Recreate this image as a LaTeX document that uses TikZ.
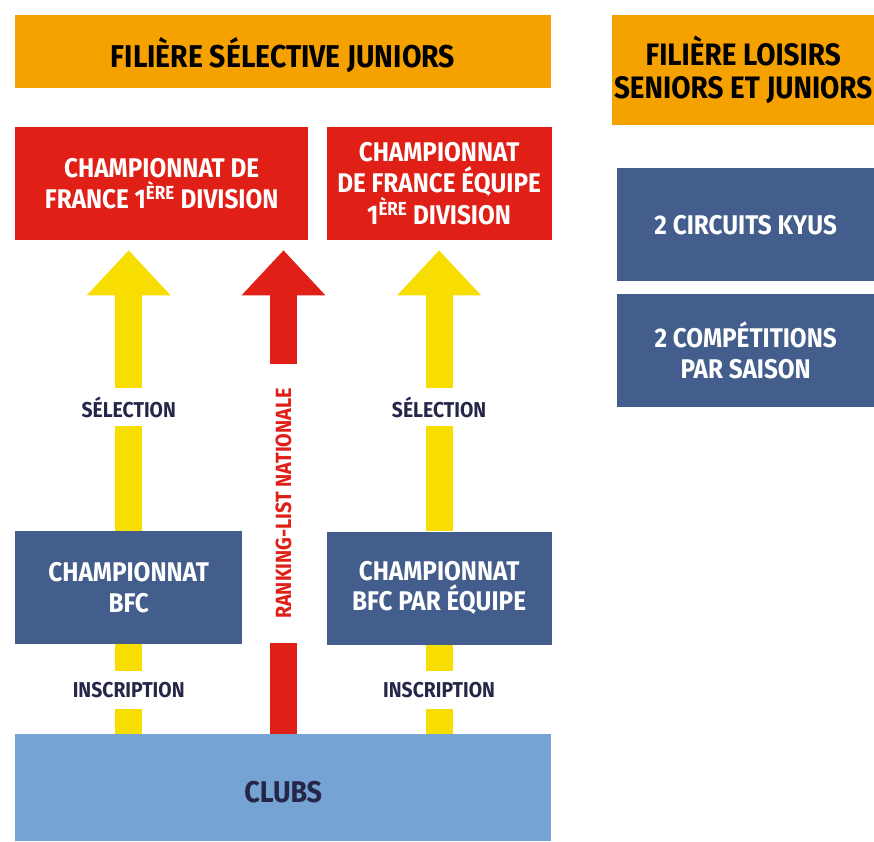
\documentclass[tikz,border=0pt]{standalone}
\usepackage{fontspec}
\setmainfont{Fira Sans}[FakeStretch=0.9]
\usetikzlibrary{positioning,arrows.meta}

\definecolor{filorange}{HTML}{F5A100}
\definecolor{frred}{HTML}{E01F17}
\definecolor{selyellow}{HTML}{F8DD00}
\definecolor{bfcblue}{HTML}{435E8C}
\definecolor{clubblue}{HTML}{75A4D4}
\definecolor{labelnavy}{HTML}{262649}

\begin{document}
\begin{tikzpicture}[
  x=1pt, y=-1pt,
  box/.style={rectangle, inner sep=0pt, align=center, text=white, font=\bfseries\fontsize{27}{30.5}\selectfont},
  titlebox/.style={box, fill=filorange, text=black, font=\bfseries\fontsize{31}{33}\selectfont},
  redbox/.style={box, fill=frred},
  bluebox/.style={box, fill=bfcblue},
  clubbox/.style={box, fill=clubblue, text=labelnavy, font=\bfseries\fontsize{30}{33}\selectfont},
  lbl/.style={inner sep=0pt, minimum height=38pt, text=labelnavy, font=\bfseries\fontsize{21.5}{24}\selectfont},
  rank/.style={inner sep=0pt, rotate=90, minimum width=279pt, text=frred, font=\bfseries\fontsize{22}{24}\selectfont},
  yshaft/.style={draw=selyellow, line width=27pt},
  rshaft/.style={draw=frred, line width=27pt},
  bighead/.style={-{Triangle[width=84pt, length=45pt, line width=0pt]}, shorten >=10pt}
]
\useasboundingbox (0,0) rectangle (874,841);

% filiere selective
\node[titlebox, minimum width=536pt, minimum height=73pt, text height=32.7pt, text depth=0pt, font=\bfseries\fontsize{31.5}{33}\selectfont] (selhead) at (283,51.5) {FILIÈRE SÉLECTIVE JUNIORS};
\node[redbox, anchor=north west, minimum width=293pt, minimum height=113pt] (cf1) at (15,127) {CHAMPIONNAT DE\\FRANCE 1\textsuperscript{ÈRE} DIVISION};
\node[redbox, right=18pt of cf1, minimum width=225pt, minimum height=113pt] (cfe) {CHAMPIONNAT\\DE FRANCE ÉQUIPE\\1\textsuperscript{ÈRE} DIVISION};
\node[bluebox, anchor=north west, minimum width=227pt, minimum height=113pt] (bfc) at (15,531) {CHAMPIONNAT\\BFC};
\node[bluebox, below=291pt of cfe, minimum width=225pt, minimum height=113pt] (bfce) {CHAMPIONNAT\\BFC PAR ÉQUIPE};
\node[clubbox, anchor=north west, minimum width=536pt, minimum height=107pt, text height=29.6pt, text depth=0pt] (clubs) at (15,734) {CLUBS};

% labels on the arrows
\node[lbl] (sel1) at (bfc |- 0,407) {SÉLECTION};
\node[lbl] (sel2) at (bfce |- 0,407) {SÉLECTION};
\node[lbl] (ins1) at (bfc |- 0,690) {INSCRIPTION};
\node[lbl] (ins2) at (bfce |- 0,690) {INSCRIPTION};
\node[rank] (rnk) at (283.5,503.5) {RANKING-LIST NATIONALE};

% filiere loisirs
\node[titlebox, anchor=north west, minimum width=262pt, minimum height=110pt] (loihead) at (612,15) {FILIÈRE LOISIRS\\SENIORS ET JUNIORS};
\node[bluebox, anchor=north west, minimum width=257pt, minimum height=113pt] (kyus) at (617,168) {2 CIRCUITS KYUS};
\node[bluebox, below=12pt of kyus, minimum width=257pt, minimum height=113pt] (comp) {2 COMPÉTITIONS\\PAR SAISON};

% arrows
\draw[yshaft] (bfc) -- (sel1);
\draw[yshaft, bighead] (sel1) -- (sel1 |- cf1.south);
\draw[yshaft] (bfc) -- (ins1);
\draw[yshaft] (ins1) -- (ins1 |- clubs.north);
\draw[yshaft] (bfce) -- (sel2);
\draw[yshaft, bighead] (sel2) -- (sel2 |- cfe.south);
\draw[yshaft] (bfce) -- (ins2);
\draw[yshaft] (ins2) -- (ins2 |- clubs.north);
\draw[rshaft] (rnk.west) -- (rnk.west |- clubs.north);
\draw[rshaft, bighead] (rnk.east) -- (rnk.east |- cf1.south);
\end{tikzpicture}
\end{document}
